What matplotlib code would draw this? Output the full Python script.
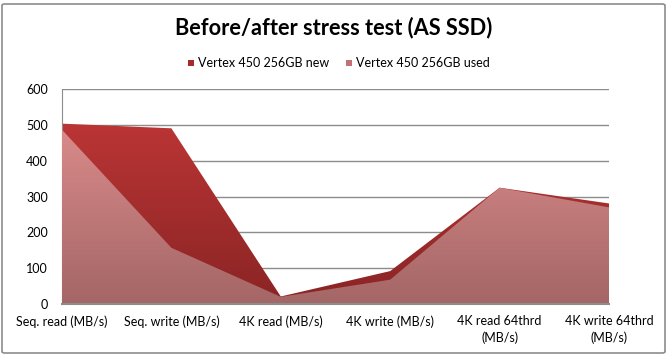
import numpy as np
import matplotlib.pyplot as plt
from matplotlib.colors import LinearSegmentedColormap
from matplotlib.patches import Rectangle, FancyBboxPatch

plt.rcParams['font.family'] = ['Lato', 'DejaVu Sans']

# Data
categories = ['Seq. read (MB/s)', 'Seq. write (MB/s)', '4K read (MB/s)',
              '4K write (MB/s)', '4K read 64thrd\n(MB/s)', '4K write 64thrd\n(MB/s)']
new_values = [504, 491, 21, 92, 325, 281]
used_values = [487, 157, 20, 68, 325, 270]
series_names = ['Vertex 450 256GB new', 'Vertex 450 256GB used']
y_ticks = [0, 100, 200, 300, 400, 500, 600]

fig = plt.figure(figsize=(6.68, 3.56), dpi=100)
fig.patches.append(FancyBboxPatch((2/668, 3/356), 663/668, 349/356,
                                  boxstyle='round,pad=0,rounding_size=0.004',
                                  transform=fig.transFigure, fill=False,
                                  edgecolor='#8c8c8c', linewidth=1.2))

ax = fig.add_axes([62/668, 1 - 304/356, (609 - 62)/668, (304 - 89.3)/356])
x = np.arange(len(categories))


# Area with a vertical gradient fill (clip an image to the area polygon)
def gradient_area(ax, values, top_color, bottom_color, z):
    poly = ax.fill_between(x, 0, values, facecolor='none', edgecolor='none', zorder=z)
    cmap = LinearSegmentedColormap.from_list('g', [bottom_color, top_color])
    grad = np.linspace(0, 1, 256).reshape(-1, 1)
    img = ax.imshow(grad, cmap=cmap, origin='lower', aspect='auto',
                    extent=[x[0], x[-1], 0, max(values)], zorder=z,
                    interpolation='bicubic')
    img.set_clip_path(poly.get_paths()[0], transform=ax.transData)


gradient_area(ax, new_values, '#bb3535', '#8a2424', 2)
gradient_area(ax, used_values, '#d98a8a', '#a46666', 3)

ax.set_xlim(x[0], x[-1])
ax.set_ylim(0, 600)
ax.set_yticks(y_ticks)
ax.set_yticklabels([str(v) for v in y_ticks])
ax.set_xticks(x)
ax.set_xticklabels(categories, linespacing=1.45)
for yv in y_ticks[1:]:
    ax.axhline(yv, color='#8c8c8c', linewidth=1.0, zorder=1)
for s in ['top', 'right']:
    ax.spines[s].set_visible(False)
ax.spines['left'].set_color('#8c8c8c')
ax.spines['bottom'].set_color('#8c8c8c')
ax.spines['bottom'].set_linewidth(1.5)
ax.spines['bottom'].set_zorder(5)
ax.tick_params(axis='both', length=0, labelsize=9, colors='black')
ax.tick_params(axis='y', pad=10)
ax.tick_params(axis='x', pad=8)

fig.text(0.5, 1 - 28/356, 'Before/after stress test (AS SSD)', ha='center', va='center',
         fontsize=15.7, fontweight='bold')

# Legend
legend_colors = ['#a52a2a', '#c27272']
legend_x = [188, 346]
for name, c, lx in zip(series_names, legend_colors, legend_x):
    fig.patches.append(Rectangle((lx/668, 1 - 66/356), 6/668, 6/356,
                                 transform=fig.transFigure, facecolor=c, edgecolor='none'))
    fig.text((lx + 10)/668, 1 - 63/356, name, ha='left', va='center', fontsize=9)

fig.savefig('out.png', dpi=100)
